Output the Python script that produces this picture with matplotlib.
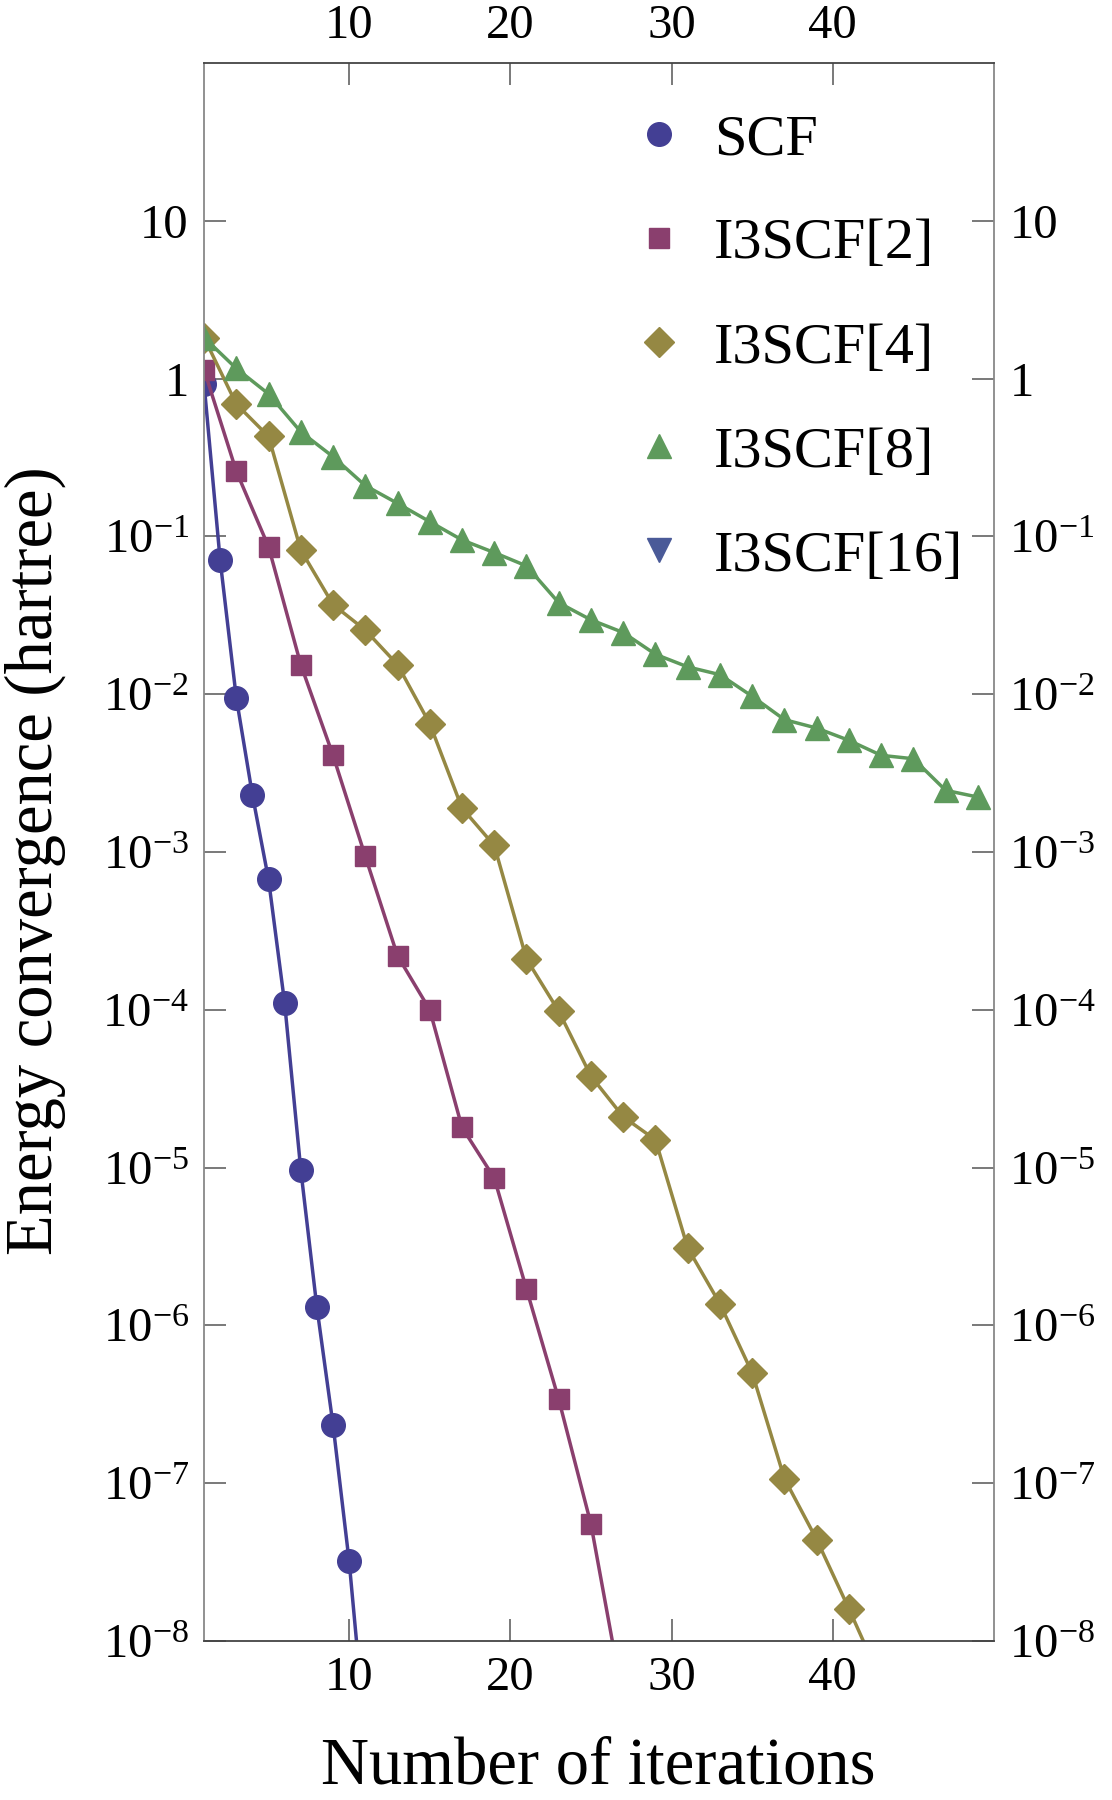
import numpy as np
import matplotlib
matplotlib.use("Agg")
import matplotlib.pyplot as plt
from matplotlib.lines import Line2D
from matplotlib.ticker import FixedLocator, FixedFormatter

plt.rcParams['font.family'] = ['Liberation Serif', 'DejaVu Serif']
plt.rcParams['mathtext.fontset'] = 'custom'
plt.rcParams['mathtext.rm'] = 'Liberation Serif'
plt.rcParams['mathtext.it'] = 'Liberation Serif:italic'

# data (energy change per iteration, hartree)
scf_x = [1, 2, 3, 4, 5, 6, 7, 8, 9, 10, 11]
scf_y = [0.93, 0.0705, 0.0095, 0.0023, 6.7e-4, 1.1e-4, 9.7e-6, 1.3e-6,
         2.35e-7, 3.2e-8, 2.5e-9]

i2_x = [1, 3, 5, 7, 9, 11, 13, 15, 17, 19, 21, 23, 25, 27]
i2_y = [1.14, 0.259, 0.086, 0.0154, 0.0041, 9.4e-4, 2.2e-4, 1.0e-4,
        1.8e-5, 8.6e-6, 1.7e-6, 3.4e-7, 5.5e-8, 4.2e-9]

i4_x = [1, 3, 5, 7, 9, 11, 13, 15, 17, 19, 21, 23, 25, 27, 29, 31, 33,
        35, 37, 39, 41, 43]
i4_y = [1.82, 0.69, 0.43, 0.082, 0.037, 0.0255, 0.0154, 0.0065, 0.0019,
        0.0011, 2.1e-4, 9.8e-5, 3.8e-5, 2.1e-5, 1.5e-5, 3.1e-6, 1.37e-6,
        5.0e-7, 1.07e-7, 4.4e-8, 1.6e-8, 5.6e-9]

i8_x = [1, 3, 5, 7, 9, 11, 13, 15, 17, 19, 21, 23, 25, 27, 29, 31, 33,
        35, 37, 39, 41, 43, 45, 47, 49]
i8_y = [1.82, 1.16, 0.80, 0.46, 0.32, 0.21, 0.162, 0.124, 0.095, 0.079,
        0.065, 0.038, 0.0296, 0.0246, 0.0179, 0.0149, 0.0133, 0.0097,
        0.0069, 0.0061, 0.0051, 0.0041, 0.0039, 0.00246, 0.00223]

labels = ['SCF', 'I3SCF[2]', 'I3SCF[4]', 'I3SCF[8]', 'I3SCF[16]']
colors = ['#433f94', '#8a3f6e', '#958843', '#5e9a5c', '#4a5a98']
markers = ['o', 's', 'D', '^', 'v']
msizes = [17, 15, 15, 17, 17]

xticks = [10, 20, 30, 40]
yexp = list(range(-8, 2))
ytick_labels = ['$10^{%d}$' % e if e < 0 else str(10 ** e) for e in yexp]

fig = plt.figure(figsize=(11.12, 18), dpi=100)
ax = fig.add_axes([0.1835, 0.0883, 0.7104, 0.8767])

series = [(scf_x, scf_y), (i2_x, i2_y), (i4_x, i4_y), (i8_x, i8_y)]
for (xs, ys), c, m, ms in zip(series, colors, markers, msizes):
    ax.plot(xs, ys, color=c, lw=2.5, marker=m, ms=ms, mec=c, mfc=c)

ax.set_yscale('log')
ax.set_xlim(1, 50)
ax.set_ylim(1e-8, 100)

ax.xaxis.set_major_locator(FixedLocator(xticks))
ax.yaxis.set_major_locator(FixedLocator([10.0 ** e for e in yexp]))
ax.yaxis.set_major_formatter(FixedFormatter(ytick_labels))
ax.yaxis.set_minor_locator(FixedLocator([]))
ax.xaxis.set_minor_locator(FixedLocator([]))

ax.tick_params(which='major', direction='in', length=16, width=1.1,
               color='#555555', labelsize=35, pad=11,
               top=True, right=True, labeltop=True, labelright=True)

for side in ['top', 'bottom']:
    ax.spines[side].set_color('#444444')
    ax.spines[side].set_linewidth(1.3)
for side in ['left', 'right']:
    ax.spines[side].set_color('#888888')
    ax.spines[side].set_linewidth(1.3)

handles = [Line2D([], [], ls='none', marker=m, ms=ms, color=c, mec=c)
           for c, m, ms in zip(colors, markers, msizes)]
ax.legend(handles, labels, loc='upper left',
          bbox_to_anchor=(0.566, 0.937), bbox_transform=fig.transFigure,
          frameon=False, fontsize=42, handlelength=1.0, handletextpad=0.45,
          labelspacing=0.88, borderpad=0, borderaxespad=0)

fig.text(0.538, 0.009, 'Number of iterations', fontsize=48,
         ha='center', va='baseline')
fig.text(0.004, 0.522, 'Energy convergence (hartree)', fontsize=48,
         rotation=90, ha='left', va='center')

fig.savefig('out.png', dpi=100)
